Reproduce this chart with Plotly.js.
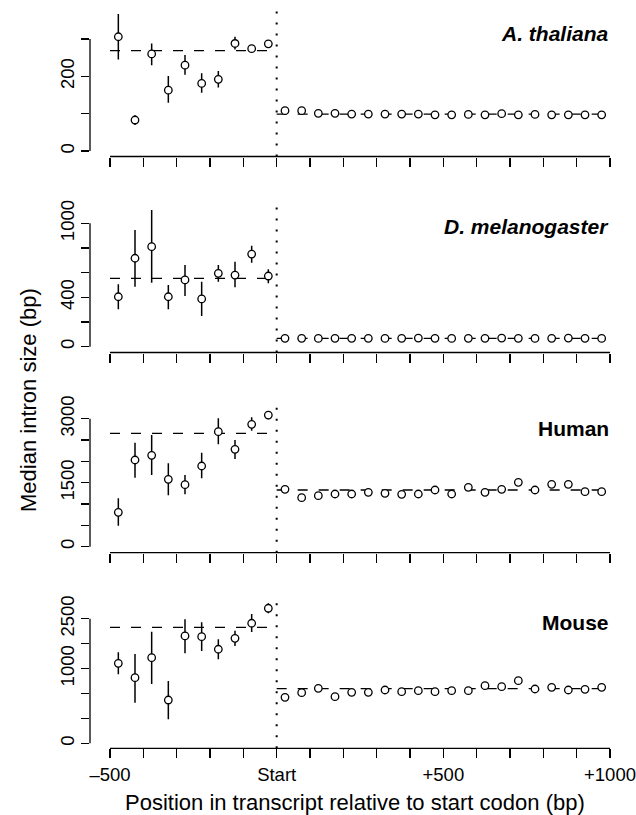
<!DOCTYPE html>
<html>
<head>
<meta charset="utf-8">
<script src="https://cdn.plot.ly/plotly-3.0.1.min.js"></script>
<style>html,body{margin:0;padding:0;background:#fff;}#chart{width:636px;height:815px;}</style>
</head>
<body>
<div id="chart"></div>
<script>
// ---------- DATA ----------
const preX  = [-475, -425, -375, -325, -275, -225, -175, -125, -75, -25];
const postX = [25, 75, 125, 175, 225, 275, 325, 375, 425, 475, 525, 575, 625, 675, 725, 775, 825, 875, 925, 975];
const preRegion  = [-500, 0];
const postRegion = [0, 1000];
const speciesNames = ["A. thaliana", "D. melanogaster", "Human", "Mouse"];

// A. thaliana
const athPre      = [306, 83, 260, 163, 230, 181, 192, 288, 274, 287];
const athPreLo    = [245, 70, 230, 129, 204, 156, 170, 272, 267, 280];
const athPreHi    = [367, 96, 288, 201, 257, 208, 214, 306, 281, 295];
const athPost     = [108, 108, 101, 101, 99, 99, 99, 99, 99, 97, 97, 98, 97, 100, 97, 98, 97, 97, 97, 97];
const athPostLo   = [104, 104, 98, 98, 96, 96, 96, 96, 96, 94, 94, 95, 94, 97, 94, 95, 94, 94, 94, 94];
const athPostHi   = [112, 112, 104, 104, 102, 102, 102, 102, 102, 100, 100, 101, 100, 103, 100, 101, 100, 100, 100, 100];
const athPreMean  = 269;
const athPostMean = 99;

// D. melanogaster
const dmePre      = [405, 717, 811, 405, 541, 387, 595, 581, 751, 573];
const dmePreLo    = [303, 487, 519, 303, 411, 249, 527, 481, 681, 514];
const dmePreHi    = [506, 946, 1108, 500, 662, 527, 662, 689, 819, 627];
const dmePost     = [68, 68, 67, 68, 68, 68, 67, 68, 70, 68, 67, 68, 68, 70, 68, 67, 68, 70, 68, 67];
const dmePostLo   = [64, 64, 63, 64, 64, 64, 63, 64, 66, 64, 63, 64, 64, 66, 64, 63, 64, 66, 64, 63];
const dmePostHi   = [72, 72, 71, 72, 72, 72, 71, 72, 74, 72, 71, 72, 72, 74, 72, 71, 72, 74, 72, 71];
const dmePreMean  = 554;
const dmePostMean = 67;

// Human
const hsaPre      = [806, 2032, 2142, 1579, 1453, 1891, 2696, 2282, 2868, 3086];
const hsaPreLo    = [492, 1617, 1680, 1204, 1228, 1602, 2399, 2055, 2719, 2985];
const hsaPreHi    = [1134, 2438, 2618, 1953, 1680, 2203, 3009, 2500, 3032, 3180];
const hsaPost     = [1345, 1149, 1196, 1235, 1235, 1274, 1251, 1227, 1235, 1329, 1235, 1392, 1274, 1345, 1509, 1329, 1462, 1462, 1290, 1290];
const hsaPostLo   = [1295, 1099, 1146, 1185, 1185, 1224, 1201, 1177, 1185, 1279, 1185, 1342, 1224, 1295, 1459, 1279, 1412, 1412, 1240, 1240];
const hsaPostHi   = [1395, 1199, 1246, 1285, 1285, 1324, 1301, 1277, 1285, 1379, 1285, 1442, 1324, 1395, 1559, 1379, 1512, 1512, 1340, 1340];
const hsaPreMean  = 2657;
const hsaPostMean = 1329;

// Mouse
const mmuPre      = [1606, 1317, 1719, 869, 2155, 2141, 1888, 2108, 2410, 2711];
const mmuPreLo    = [1386, 815, 1191, 482, 1807, 1853, 1687, 1954, 2235, 2610];
const mmuPreHi    = [1827, 1793, 2241, 1251, 2490, 2430, 2088, 2261, 2596, 2811];
const mmuPost     = [924, 1016, 1104, 936, 1024, 1024, 1070, 1036, 1056, 1036, 1056, 1056, 1157, 1137, 1257, 1090, 1124, 1070, 1084, 1124];
const mmuPostLo   = [884, 976, 1064, 896, 984, 984, 1030, 996, 1016, 996, 1016, 1016, 1117, 1097, 1217, 1050, 1084, 1030, 1044, 1084];
const mmuPostHi   = [964, 1056, 1144, 976, 1064, 1064, 1110, 1076, 1096, 1076, 1096, 1096, 1197, 1177, 1297, 1130, 1164, 1110, 1124, 1164];
const mmuPreMean  = 2329;
const mmuPostMean = 1097;

// axis ticks
const xTickVals = [-500, -400, -300, -200, -100, 0, 100, 200, 300, 400, 500, 600, 700, 800, 900, 1000];
const xTickText = ["\u2013500", "", "", "", "", "Start", "", "", "", "", "+500", "", "", "", "", "+1000"];
const yTickVals = [[0, 100, 200, 300], [0, 200, 400, 600, 800, 1000], [0, 500, 1000, 1500, 2000, 2500, 3000], [0, 500, 1000, 1500, 2000, 2500]];
const yTickText = [["0", "", "200", ""], ["0", "", "400", "", "", "1000"], ["0", "", "", "1500", "", "", "3000"], ["0", "", "", "1000", "", "2500"]];

// ---------- BUILD ----------
const panels = [
  {pre: athPre, preLo: athPreLo, preHi: athPreHi, post: athPost, postLo: athPostLo, postHi: athPostHi, preMean: athPreMean, postMean: athPostMean},
  {pre: dmePre, preLo: dmePreLo, preHi: dmePreHi, post: dmePost, postLo: dmePostLo, postHi: dmePostHi, preMean: dmePreMean, postMean: dmePostMean},
  {pre: hsaPre, preLo: hsaPreLo, preHi: hsaPreHi, post: hsaPost, postLo: hsaPostLo, postHi: hsaPostHi, preMean: hsaPreMean, postMean: hsaPostMean},
  {pre: mmuPre, preLo: mmuPreLo, preHi: mmuPreHi, post: mmuPost, postLo: mmuPostLo, postHi: mmuPostHi, preMean: mmuPreMean, postMean: mmuPostMean}
];

const W = 636, H = 815;
const FONT = "Liberation Sans, Arial, Helvetica, sans-serif";
// layout geometry (pixels)
const plotLeft = 90, plotRight = 630;
const panelPx = [[8.5, 156.5], [204.6, 352.5], [404.7, 552.7], [600.3, 748.3]];
const yRanges = [[-14.7, 381.7], [-47, 1152], [-140.6, 3328], [-100.4, 2871]];
const labelY = [34, 227, 429, 622.5];

const traces = [];
const shapes = [];
const annotations = [];
const layout = {
  width: W, height: H,
  margin: {l: 0, r: 0, t: 0, b: 0},
  paper_bgcolor: "#fff", plot_bgcolor: "rgba(0,0,0,0)",
  showlegend: false,
  font: {family: FONT, color: "#000"}
};

const markerStyle = {symbol: "circle", size: 7.5, color: "#fff", line: {color: "#000", width: 1.3}};
const dashStyle = {color: "#000", width: 1.3, dash: "10px,11px"};

panels.forEach((p, i) => {
  const n = i + 1;
  const xa = n === 1 ? "x" : "x" + n;
  const ya = n === 1 ? "y" : "y" + n;
  const xKey = n === 1 ? "xaxis" : "xaxis" + n;
  const yKey = n === 1 ? "yaxis" : "yaxis" + n;

  // mean lines
  traces.push({x: preRegion, y: [p.preMean, p.preMean], xaxis: xa, yaxis: ya, mode: "lines", line: dashStyle, hoverinfo: "skip"});
  traces.push({x: postRegion, y: [p.postMean, p.postMean], xaxis: xa, yaxis: ya, mode: "lines", line: dashStyle, hoverinfo: "skip"});

  // points with CI
  const allX = preX.concat(postX);
  const allY = p.pre.concat(p.post);
  const allLo = p.preLo.concat(p.postLo);
  const allHi = p.preHi.concat(p.postHi);
  traces.push({
    x: allX, y: allY, xaxis: xa, yaxis: ya, mode: "markers",
    marker: markerStyle, cliponaxis: false,
    error_y: {type: "data", symmetric: false,
      array: allHi.map((h, k) => h - allY[k]),
      arrayminus: allLo.map((l, k) => allY[k] - l),
      color: "#000", thickness: 1.5, width: 0}
  });

  const ydom = [1 - panelPx[i][1] / H, 1 - panelPx[i][0] / H];
  layout[xKey] = {
    domain: [plotLeft / W, plotRight / W], range: [-560, 1060], anchor: ya,
    showgrid: false, zeroline: false, showline: false,
    ticks: "outside", ticklen: 9, tickwidth: 1.3, tickcolor: "#000",
    tickmode: "array", tickvals: xTickVals,
    ticktext: n === 4 ? xTickText : xTickVals.map(() => ""),
    showticklabels: n === 4,
    tickfont: {family: FONT, size: 18.5, color: "#000"},
    fixedrange: true
  };
  layout[yKey] = {
    domain: ydom, range: yRanges[i], anchor: xa,
    showgrid: false, zeroline: false, showline: false,
    ticks: "outside", ticklen: 8, tickwidth: 1.3, tickcolor: "#000",
    tickmode: "array", tickvals: yTickVals[i], ticktext: yTickText[i],
    tickangle: -90,
    tickfont: {family: FONT, size: 18.5, color: "#000"},
    fixedrange: true
  };

  // R-style axis lines
  const yv = yTickVals[i];
  shapes.push({type: "line", xref: "paper", yref: ya, x0: plotLeft / W, x1: plotLeft / W, y0: yv[0], y1: yv[yv.length - 1], line: {color: "#000", width: 1.3}});
  shapes.push({type: "line", xref: xa, yref: ya + " domain", x0: xTickVals[0], x1: xTickVals[xTickVals.length - 1], y0: 0, y1: 0, line: {color: "#000", width: 1.3}});
  // start codon dotted line
  shapes.push({type: "line", xref: xa, yref: ya + " domain", x0: 0, x1: 0, y0: 0, y1: 1, line: {color: "#000", width: 2, dash: "2px,9px"}});

  annotations.push({
    xref: "paper", yref: "paper", x: 611 / W, y: 1 - labelY[i] / H,
    xanchor: "right", yanchor: "middle", showarrow: false,
    text: i < 2 ? "<b><i>" + speciesNames[i] + "</i></b>" : "<b>" + speciesNames[i] + "</b>",
    font: {family: FONT, size: 21, color: "#000"}
  });
});

annotations.push({
  xref: "paper", yref: "paper", x: 28 / W, y: 1 - 400 / H, textangle: -90,
  xanchor: "center", yanchor: "middle", showarrow: false,
  text: "Median intron size (bp)", font: {family: FONT, size: 22, color: "#000"}
});
annotations.push({
  xref: "paper", yref: "paper", x: 355 / W, y: 1 - 802 / H,
  xanchor: "center", yanchor: "middle", showarrow: false,
  text: "Position in transcript relative to start codon (bp)", font: {family: FONT, size: 22, color: "#000"}
});

layout.shapes = shapes;
layout.annotations = annotations;

Plotly.newPlot("chart", traces, layout, {displayModeBar: false, staticPlot: true});
</script>
</body>
</html>
